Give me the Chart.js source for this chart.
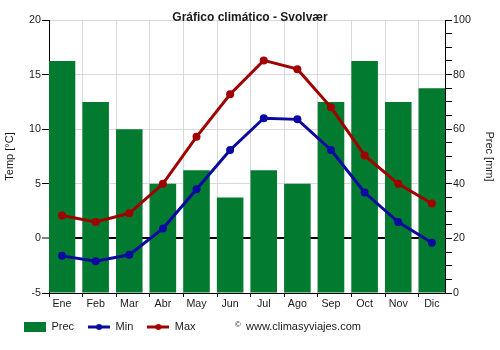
<!DOCTYPE html>
<html>
<head>
<meta charset="utf-8">
<script src="https://cdn.jsdelivr.net/npm/chart.js@4/dist/chart.umd.min.js"></script>
<style>
  html, body { margin: 0; padding: 0; background: #fff; }
  #wrap { width: 500px; height: 350px; }
</style>
</head>
<body>
<div id="wrap"><canvas id="chart" width="500" height="350"></canvas></div>
<script>
// Monthly climate data for Svolvær
const months = ['Ene', 'Feb', 'Mar', 'Abr', 'May', 'Jun', 'Jul', 'Ago', 'Sep', 'Oct', 'Nov', 'Dic'];
const precip = [85, 70, 60, 40, 45, 35, 45, 40, 70, 85, 70, 75];          // mm
const tempMin = [-1.6, -2.1, -1.5, 0.9, 4.5, 8.1, 11.0, 10.9, 8.1, 4.2, 1.5, -0.4]; // °C
const tempMax = [2.1, 1.5, 2.3, 5.0, 9.3, 13.2, 16.3, 15.5, 12.0, 7.6, 5.0, 3.2];   // °C
const tempTicks = [-5, 0, 5, 10, 15, 20];
const precTicks = [0, 20, 40, 60, 80, 100];

const COLOR_PREC = '#027b31';
const COLOR_MIN = '#0a0aa0';
const COLOR_MAX = '#a00000';
const TEXT = '#1a1a1a';
const GRID = '#d9d9d9';
const FAMILY = "'Liberation Sans', Arial, sans-serif";

Chart.defaults.font.family = FAMILY;
Chart.defaults.color = TEXT;

// category slot layout on the linear x axis: grid lines sit 0.387 of a slot left of each month
const SLOT_SHIFT = 0.387;

function legendIcon(kind, color) {
  const c = document.createElement('canvas');
  c.width = 22; c.height = 10;
  const g = c.getContext('2d');
  if (kind === 'bar') {
    g.fillStyle = color;
    g.fillRect(0, 0, 22, 10);
  } else {
    g.strokeStyle = color;
    g.lineWidth = 3;
    g.beginPath(); g.moveTo(0, 5); g.lineTo(22, 5); g.stroke();
    g.fillStyle = color;
    g.beginPath(); g.arc(11, 5, 3, 0, Math.PI * 2); g.fill();
  }
  return c;
}
const icons = [legendIcon('bar', COLOR_PREC), legendIcon('line', COLOR_MIN), legendIcon('line', COLOR_MAX)];

// pull the legend row up a little so it sits closer to the month labels
const legendNudge = {
  id: 'legendNudge',
  afterLayout(chart) {
    const l = chart.legend;
    if (l) { l.top -= 5.5; l.bottom -= 5.5; }
  }
};

const watermark = {
  id: 'watermark',
  afterDraw(chart) {
    const ctx = chart.ctx;
    ctx.save();
    ctx.fillStyle = TEXT;
    ctx.textBaseline = 'middle';
    ctx.textAlign = 'left';
    ctx.font = '8px ' + FAMILY;
    ctx.fillText('©', 235, 325);
    ctx.font = '11px ' + FAMILY;
    ctx.fillText('www.climasyviajes.com', 246, 327);
    ctx.restore();
  }
};

const tickFont = { size: 10.7, family: FAMILY };

new Chart(document.getElementById('chart'), {
  type: 'bar',
  data: {
    datasets: [
      {
        type: 'bar',
        label: 'Prec',
        data: precip.map((v, i) => ({ x: i, y: v })),
        backgroundColor: COLOR_PREC,
        borderWidth: 0,
        yAxisID: 'y2',
        categoryPercentage: 0.79,
        barPercentage: 1,
        order: 3
      },
      {
        type: 'line',
        label: 'Min',
        data: tempMin.map((v, i) => ({ x: i, y: v })),
        borderColor: COLOR_MIN,
        backgroundColor: COLOR_MIN,
        borderWidth: 3,
        pointRadius: 4,
        pointBorderWidth: 0,
        pointBackgroundColor: COLOR_MIN,
        tension: 0,
        yAxisID: 'y',
        order: 2
      },
      {
        type: 'line',
        label: 'Max',
        data: tempMax.map((v, i) => ({ x: i, y: v })),
        borderColor: COLOR_MAX,
        backgroundColor: COLOR_MAX,
        borderWidth: 3,
        pointRadius: 4,
        pointBorderWidth: 0,
        pointBackgroundColor: COLOR_MAX,
        tension: 0,
        yAxisID: 'y',
        order: 1
      }
    ]
  },
  options: {
    responsive: false,
    animation: false,
    devicePixelRatio: 1,
    layout: { padding: { left: 10, right: 10, top: 0, bottom: 2 } },
    plugins: {
      tooltip: { enabled: false },
      title: {
        display: true,
        text: 'Gráfico climático - Svolvær',
        color: TEXT,
        font: { size: 12, weight: 'bold', family: FAMILY, lineHeight: '20px' },
        padding: { top: 8, bottom: -8 }
      },
      legend: {
        position: 'bottom',
        align: 'start',
        maxHeight: 35,
        labels: {
          usePointStyle: true,
          pointStyleWidth: 22,
          boxHeight: 10,
          padding: 14,
          color: TEXT,
          font: { size: 11, family: FAMILY },
          generateLabels: () => ['Prec', 'Min', 'Max'].map((t, i) => ({
            text: t,
            pointStyle: icons[i],
            datasetIndex: i,
            hidden: false,
            lineWidth: 0,
            fillStyle: 'transparent',
            strokeStyle: 'transparent',
            fontColor: TEXT
          }))
        }
      }
    },
    scales: {
      x: {
        type: 'linear',
        position: 'bottom',
        min: -SLOT_SHIFT,
        max: months.length - 1 + 0.39,
        offset: false,
        afterBuildTicks: s => { s.ticks = months.map((m, i) => ({ value: i - SLOT_SHIFT })); },
        afterFit: s => { s.height = 20; },
        ticks: {
          callback: (v, i) => months[i],
          labelOffset: 13,
          autoSkip: false,
          maxRotation: 0,
          padding: 1,
          color: TEXT,
          font: tickFont
        },
        grid: { offset: false, color: GRID, tickColor: '#000', tickLength: 4, tickWidth: 1 },
        border: { color: '#000', width: 1 }
      },
      y: {
        position: 'left',
        min: tempTicks[0],
        max: tempTicks[tempTicks.length - 1],
        afterBuildTicks: s => { s.ticks = tempTicks.map(v => ({ value: v })); },
        afterFit: s => { s.width = 39; },
        ticks: { padding: 1, color: TEXT, font: tickFont },
        grid: {
          color: c => (c.tick && c.tick.value === 0 ? '#000' : GRID),
          lineWidth: c => (c.tick && c.tick.value === 0 ? 2 : 1),
          tickColor: '#000',
          tickWidth: 1,
          tickLength: 7
        },
        border: { color: '#000', width: 1 },
        title: {
          display: true,
          text: 'Temp [°C]',
          color: TEXT,
          font: { size: 11, family: FAMILY },
          padding: { top: -7.1, bottom: 0 }
        }
      },
      y2: {
        position: 'right',
        min: precTicks[0],
        max: precTicks[precTicks.length - 1],
        afterFit: s => { s.width = 45; },
        ticks: {
          stepSize: 5,
          autoSkip: false,
          padding: 1,
          color: TEXT,
          font: tickFont,
          callback: v => (precTicks.includes(v) ? String(v) : '')
        },
        grid: { drawOnChartArea: false, tickColor: '#000', tickWidth: 1, tickLength: 7 },
        border: { color: '#000', width: 1 },
        title: {
          display: true,
          text: 'Prec [mm]',
          color: TEXT,
          font: { size: 11, family: FAMILY },
          padding: { top: -5.6, bottom: 0 }
        }
      }
    }
  },
  plugins: [legendNudge, watermark]
});
</script>
</body>
</html>
